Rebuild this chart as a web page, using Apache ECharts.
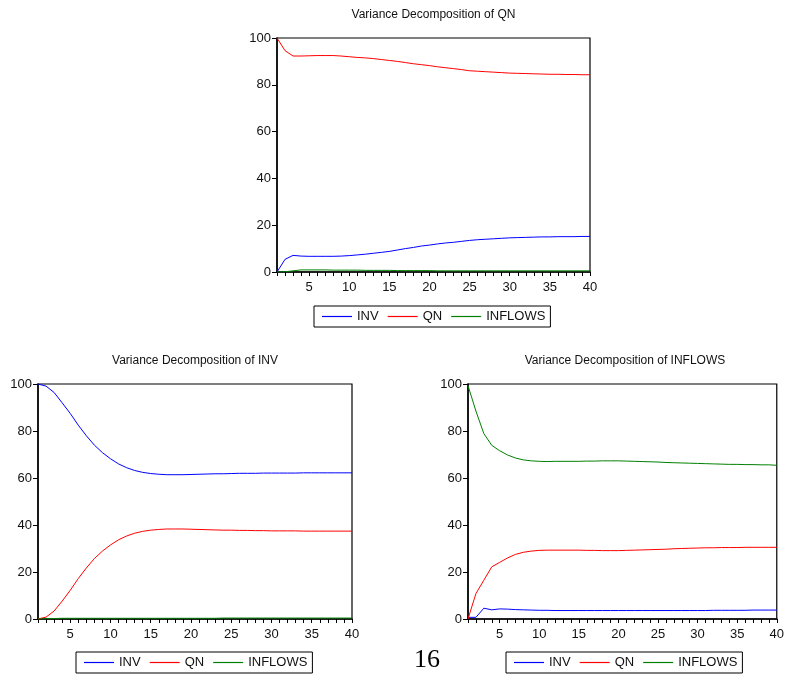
<!DOCTYPE html>
<html>
<head>
<meta charset="utf-8">
<script src="https://cdn.jsdelivr.net/npm/echarts@6/dist/echarts.min.js"></script>
<style>
  html, body { margin: 0; padding: 0; background: #fff; }
  #main { width: 787px; height: 675px; }
</style>
</head>
<body>
<div id="main"></div>
<script>
// forecast horizon (periods)
const periods = [1, 2, 3, 4, 5, 6, 7, 8, 9, 10, 11, 12, 13, 14, 15, 16, 17, 18, 19, 20,
                 21, 22, 23, 24, 25, 26, 27, 28, 29, 30, 31, 32, 33, 34, 35, 36, 37, 38, 39, 40];
const seriesNames = ['INV', 'QN', 'INFLOWS'];
const yTicks = [0, 20, 40, 60, 80, 100];

// Variance Decomposition of QN
const qnINV = [0, 5.4, 7.1, 6.8, 6.7, 6.7, 6.7, 6.7, 6.8, 7.0, 7.3, 7.6, 8.0, 8.4, 8.8, 9.4, 10.0, 10.5, 11.1, 11.5,
               12.0, 12.4, 12.7, 13.1, 13.5, 13.8, 14.0, 14.2, 14.4, 14.6, 14.7, 14.8, 14.9, 15.0, 15.0, 15.1, 15.1, 15.1, 15.2, 15.2];
const qnQN = [100, 94.6, 92.3, 92.3, 92.4, 92.5, 92.5, 92.5, 92.3, 92.0, 91.7, 91.5, 91.2, 90.8, 90.4, 90.0, 89.5, 89.0, 88.6, 88.2,
              87.7, 87.3, 86.9, 86.5, 86.0, 85.8, 85.6, 85.4, 85.2, 85.0, 84.9, 84.8, 84.7, 84.6, 84.5, 84.5, 84.4, 84.4, 84.3, 84.3];
const qnINFLOWS = [0, 0.1, 0.5, 0.9, 0.9, 0.9, 0.9, 0.8, 0.8, 0.8, 0.8, 0.7, 0.7, 0.7, 0.7, 0.6, 0.6, 0.6, 0.6, 0.6,
                   0.5, 0.5, 0.5, 0.5, 0.5, 0.5, 0.5, 0.5, 0.5, 0.5, 0.5, 0.5, 0.5, 0.5, 0.5, 0.5, 0.5, 0.5, 0.5, 0.5];

// Variance Decomposition of INV
const invINV = [100, 99.1, 96.4, 92.0, 87.5, 82.5, 78.0, 74.0, 70.8, 68.2, 66.0, 64.4, 63.2, 62.4, 61.9, 61.6, 61.4, 61.4, 61.4, 61.5,
                61.6, 61.7, 61.8, 61.8, 61.9, 62.0, 62.0, 62.0, 62.1, 62.1, 62.1, 62.1, 62.1, 62.2, 62.2, 62.2, 62.2, 62.2, 62.2, 62.2];
const invQN = [0, 0.8, 3.4, 7.6, 12.2, 17.2, 21.7, 25.7, 28.9, 31.5, 33.7, 35.3, 36.5, 37.3, 37.8, 38.1, 38.3, 38.3, 38.3, 38.2,
               38.1, 38.0, 37.9, 37.8, 37.8, 37.7, 37.7, 37.6, 37.6, 37.5, 37.5, 37.5, 37.5, 37.4, 37.4, 37.4, 37.4, 37.4, 37.4, 37.4];
const invINFLOWS = [0, 0.1, 0.2, 0.3, 0.3, 0.3, 0.3, 0.3, 0.3, 0.3, 0.3, 0.3, 0.3, 0.3, 0.3, 0.3, 0.3, 0.3, 0.3, 0.3,
                    0.3, 0.3, 0.3, 0.4, 0.4, 0.4, 0.4, 0.4, 0.4, 0.4, 0.4, 0.4, 0.4, 0.4, 0.4, 0.4, 0.4, 0.4, 0.4, 0.4];

// Variance Decomposition of INFLOWS
const infINV = [0.7, 0.7, 4.6, 3.9, 4.3, 4.2, 4.0, 3.9, 3.8, 3.7, 3.7, 3.6, 3.6, 3.6, 3.6, 3.6, 3.6, 3.6, 3.6, 3.6,
                3.6, 3.6, 3.6, 3.6, 3.6, 3.6, 3.6, 3.6, 3.6, 3.6, 3.6, 3.7, 3.7, 3.7, 3.7, 3.7, 3.8, 3.8, 3.8, 3.8];
const infQN = [0, 10.8, 16.5, 22.2, 24.1, 26.0, 27.5, 28.4, 28.9, 29.2, 29.3, 29.3, 29.3, 29.3, 29.3, 29.2, 29.2, 29.1, 29.1, 29.1,
               29.2, 29.3, 29.4, 29.5, 29.6, 29.7, 29.9, 30.0, 30.1, 30.2, 30.3, 30.3, 30.4, 30.4, 30.4, 30.5, 30.5, 30.5, 30.5, 30.5];
const infINFLOWS = [99.3, 88.5, 78.9, 73.9, 71.6, 69.8, 68.5, 67.7, 67.3, 67.1, 67.0, 67.1, 67.1, 67.1, 67.1, 67.2, 67.2, 67.3, 67.3, 67.3,
                    67.2, 67.1, 67.0, 66.9, 66.8, 66.6, 66.5, 66.4, 66.3, 66.2, 66.1, 66.0, 65.9, 65.8, 65.8, 65.7, 65.7, 65.6, 65.6, 65.4];

const colors = { INV: '#0000ff', QN: '#ff0000', INFLOWS: '#008000' };
const font = "'Liberation Sans', Arial, sans-serif";

// one panel = title + grid + axes + legend + 3 series
const panels = [
    { title: 'Variance Decomposition of QN', grid: { left: 277, top: 38, width: 313, height: 234 }, legend: { left: 314, top: 306 },
      data: { INV: qnINV, QN: qnQN, INFLOWS: qnINFLOWS } },
    { title: 'Variance Decomposition of INV', grid: { left: 38, top: 384, width: 314, height: 235 }, legend: { left: 76, top: 652 },
      data: { INV: invINV, QN: invQN, INFLOWS: invINFLOWS } },
    { title: 'Variance Decomposition of INFLOWS', grid: { left: 468, top: 384, width: 314, height: 235 }, legend: { left: 506, top: 652 },
      data: { INV: infINV, QN: infQN, INFLOWS: infINFLOWS } }
];

const option = {
    backgroundColor: '#fff',
    animation: false,
    title: [], grid: [], xAxis: [], yAxis: [], legend: [], series: [],
    graphic: [{
        type: 'text', x: 427, y: 660,
        style: { text: '16', font: "26px 'Liberation Serif', 'Times New Roman', serif", fill: '#000',
                 textAlign: 'center', textVerticalAlign: 'middle' }
    }]
};

panels.forEach(function(p, i) {
    option.title.push({
        text: p.title, left: p.grid.left + p.grid.width / 2, top: p.grid.top - 29, textAlign: 'center', padding: 0,
        textStyle: { fontSize: 12, fontWeight: 'normal', color: '#111', fontFamily: font }
    });
    option.grid.push(Object.assign({ show: true, borderColor: '#000', borderWidth: 1.2, backgroundColor: 'transparent' }, p.grid));
    option.xAxis.push({
        type: 'value', gridIndex: i, min: 1, max: 40, interval: 1,
        axisLine: { show: true, lineStyle: { color: '#000', width: 1.5 } },
        axisTick: { show: true, length: 4, lineStyle: { color: '#000' } },
        axisLabel: {
            color: '#111', fontSize: 13, fontFamily: font, margin: 9,
            formatter: function(v) { return v % 5 === 0 ? String(v) : ''; }
        },
        splitLine: { show: false }
    });
    option.yAxis.push({
        type: 'value', gridIndex: i, min: yTicks[0], max: yTicks[yTicks.length - 1], interval: 20,
        axisLine: { show: true, lineStyle: { color: '#000', width: 1.5 } },
        axisTick: { show: true, length: 5, lineStyle: { color: '#000' } },
        axisLabel: { color: '#111', fontSize: 13, fontFamily: font, margin: 6 },
        splitLine: { show: false }
    });
    // legend keys are plain line segments, no markers
    option.legend.push({
        left: p.legend.left, top: p.legend.top, orient: 'horizontal',
        data: seriesNames, icon: 'rect', itemWidth: 30, itemHeight: 1.2, itemGap: 9,
        borderColor: '#000', borderWidth: 1, padding: [4, 5, 4, 8],
        textStyle: { fontSize: 13, color: '#111', fontFamily: font }
    });
    seriesNames.forEach(function(name) {
        option.series.push({
            name: name, type: 'line', xAxisIndex: i, yAxisIndex: i,
            symbol: 'none', smooth: false, z: 3,
            lineStyle: { color: colors[name], width: 1 },
            itemStyle: { color: colors[name] },
            data: periods.map(function(t, k) { return [t, p.data[name][k]]; })
        });
    });
});

const chart = echarts.init(document.getElementById('main'));
chart.setOption(option);
</script>
</body>
</html>
